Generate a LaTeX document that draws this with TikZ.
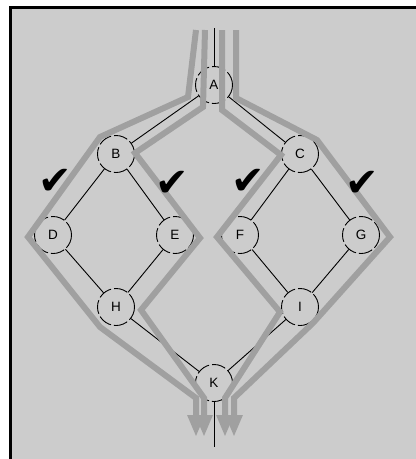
\documentclass[tikz,border=0pt]{standalone}
\usepackage{fontspec}
\setmainfont{Liberation Sans}
\newfontfamily\symfont{DejaVu Sans}
\usetikzlibrary{arrows.meta}
\definecolor{bg}{RGB}{204,204,204}
\definecolor{pathgray}{RGB}{160,160,160}
\begin{document}
\begin{tikzpicture}[x=1pt,y=-1pt,
  state/.style={circle,draw=black,line width=0.9pt,dash pattern=on 14pt off 3pt,minimum size=37pt,inner sep=0pt,font=\fontsize{13.5}{13.5}\selectfont},
  link/.style={draw=black,line width=0.9pt},
  flow/.style={draw=pathgray,line width=6pt,line join=miter,-{Triangle[length=22pt,width=16pt]}},
  tick/.style={inner sep=0pt,font=\symfont\fontsize{40}{40}\selectfont}]
\useasboundingbox (0,0) rectangle (416,459);
\fill[white] (0,0) rectangle (416,459);
\fill[black] (9,6) rectangle (416,459);
\fill[bg] (12,9) rectangle (416,459);
% nodes
\node[state] (A) at (214,85) {A};
\node[state] (B) at (116,154) {B};
\node[state] (C) at (300,154) {C};
\node[state] (D) at (53,235) {D};
\node[state] (E) at (175,235) {E};
\node[state] (F) at (240,235) {F};
\node[state] (G) at (361,235) {G};
\node[state] (H) at (116,307) {H};
\node[state] (I) at (300,307) {I};
\node[state] (K) at (214,383) {K};
\coordinate (top) at (214,28);
\coordinate (bot) at (214,447);
% links
\draw[link] (top) -- (A);
\draw[link] (A) -- (B);
\draw[link] (A) -- (C);
\draw[link] (B) -- (D);
\draw[link] (B) -- (E);
\draw[link] (C) -- (F);
\draw[link] (C) -- (G);
\draw[link] (D) -- (H);
\draw[link] (E) -- (H);
\draw[link] (F) -- (I);
\draw[link] (G) -- (I);
\draw[link] (H) -- (K);
\draw[link] (I) -- (K);
\draw[link] (K) -- (bot);
% flows
\draw[flow] (196,30) -- (188,97) -- (100,137) -- (28,237) -- (100,327) -- (196,398) -- (196,437);
\draw[flow] (205,30) -- (203,107) -- (135,153) -- (200,238) -- (141,310) -- (204,398) -- (204,437);
\draw[flow] (222,30) -- (222,110) -- (281,155) -- (217,237) -- (280,312) -- (225,398) -- (225,437);
\draw[flow] (236,30) -- (236,98) -- (317,140) -- (390,237) -- (313,323) -- (234,398) -- (234,437);
% checks
\node[tick] (ck1) at (55,182) {✔};
\node[tick] (ck2) at (172,184) {✔};
\node[tick] (ck3) at (248,182) {✔};
\node[tick] (ck4) at (362,184) {✔};
\end{tikzpicture}
\end{document}
